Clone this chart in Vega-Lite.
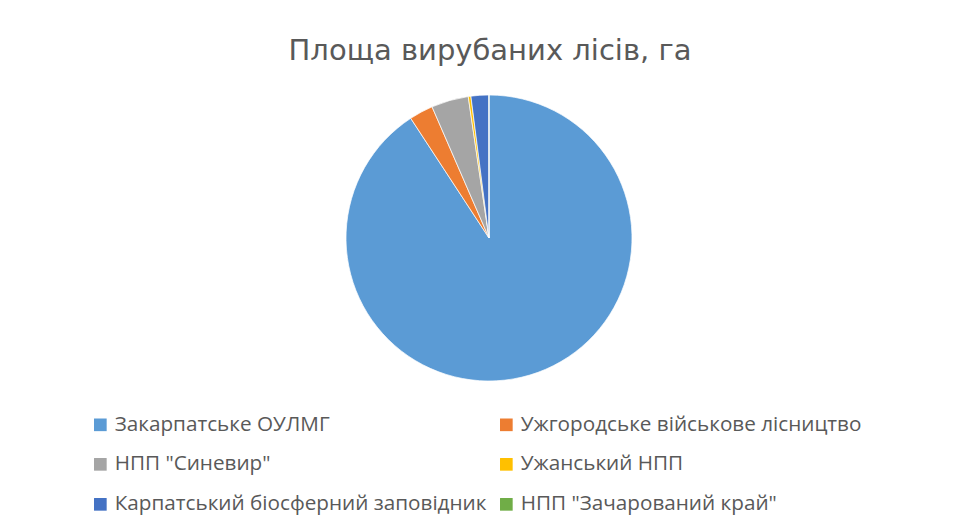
{
  "$schema": "https://vega.github.io/schema/vega-lite/v6.json",
  "width": 955,
  "height": 528,
  "autosize": {"type": "fit", "contains": "padding"},
  "padding": {"left": 9, "top": 11, "right": 0, "bottom": 0},
  "background": "white",
  "title": {
    "text": "Площа вирубаних лісів, га",
    "font": "DejaVu Sans",
    "fontSize": 29,
    "fontWeight": "normal",
    "color": "#595959",
    "anchor": "middle",
    "offset": -55,
    "dx": 8
  },
  "data": {
    "values": [
      {"idx": 1, "category": "Закарпатське ОУЛМГ", "area": 90.8},
      {"idx": 2, "category": "Ужгородське військове лісництво", "area": 2.7},
      {"idx": 3, "category": "НПП \"Синевир\"", "area": 4.2},
      {"idx": 4, "category": "Ужанський НПП", "area": 0.3},
      {"idx": 5, "category": "Карпатський біосферний заповідник", "area": 2.0},
      {"idx": 6, "category": "НПП \"Зачарований край\"", "area": 0.02}
    ]
  },
  "mark": {"type": "arc", "x": 480, "y": 227, "outerRadius": 143, "stroke": "white", "strokeWidth": 0.7},
  "encoding": {
    "theta": {"field": "area", "type": "quantitative", "stack": true},
    "order": {"field": "idx", "type": "quantitative"},
    "color": {
      "field": "category",
      "type": "nominal",
      "sort": null,
      "scale": {
        "domain": ["Закарпатське ОУЛМГ", "Ужгородське військове лісництво", "НПП \"Синевир\"", "Ужанський НПП", "Карпатський біосферний заповідник", "НПП \"Зачарований край\""],
        "range": ["#5B9BD5", "#ED7D31", "#A5A5A5", "#FFC000", "#4472C4", "#70AD47"]
      },
      "legend": {
        "orient": "none",
        "legendX": 81,
        "legendY": 403,
        "direction": "horizontal",
        "columns": 2,
        "title": null,
        "symbolType": "square",
        "symbolSize": 160,
        "symbolStrokeWidth": 0,
        "labelFont": "Open Sans",
        "labelFontSize": 20.7,
        "labelColor": "#595959",
        "labelOffset": 4,
        "labelLimit": 500,
        "rowPadding": 18,
        "columnPadding": 9,
        "gridAlign": "each"
      }
    }
  },
  "config": {"view": {"stroke": "#d9d9d9", "strokeWidth": 1}}
}
